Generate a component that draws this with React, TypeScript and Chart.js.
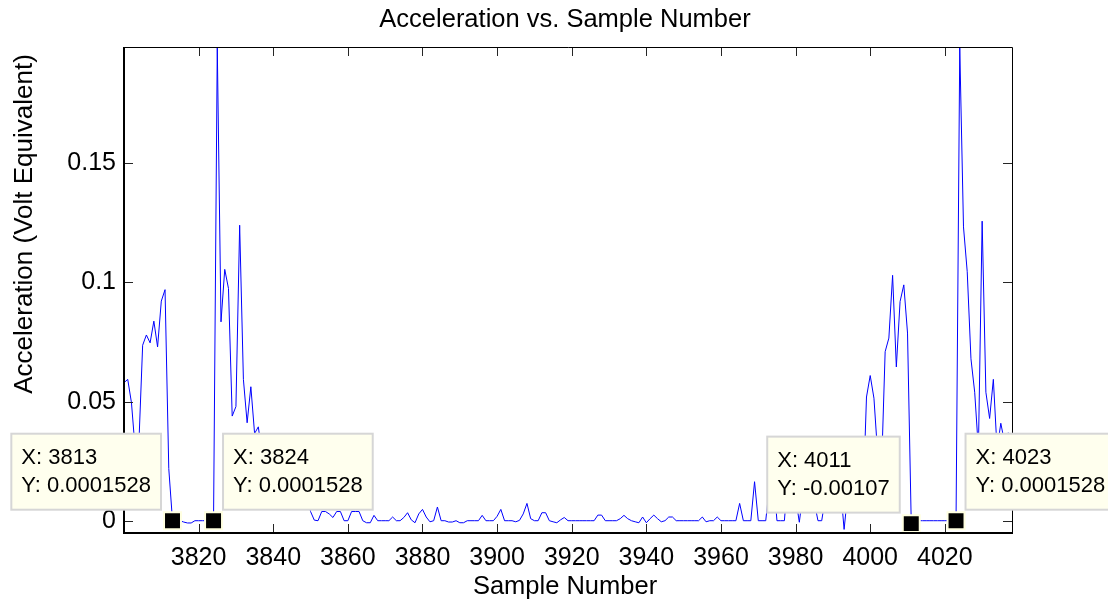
import React, { useEffect, useRef } from 'react';
import { Chart, registerables } from 'chart.js';

Chart.register(...registerables);

// ---- data (sample numbers start at 3800, one value per sample) ----
const sampleStart = 3800;
const acceleration: number[] = [
  // 3800-3809
  0.058, 0.0594, 0.0496, 0.03, 0.033, 0.0737, 0.078, 0.0747, 0.0838, 0.073,
  // 3810-3819
  0.0922, 0.097, 0.022, 0.0001528, 0.00015, 0.00015, -0.0004, -0.0008, -0.0008, 0.00015,
  // 3820-3829
  0.00015, 0.00015, 0.00015, 0.00015, 0.0001528, 0.1987, 0.0835, 0.1055, 0.0975, 0.044,
  // 3830-3839
  0.048, 0.124, 0.0594, 0.0412, 0.0563, 0.0367, 0.0395, 0.028, 0.022, 0.03,
  // 3840-3849
  0.018, 0.024, 0.015, 0.02, 0.012, 0.017, 0.01, 0.014, 0.008, 0.011,
  // 3850-3859
  0.004, 0.0004, 0.00015, 0.004, 0.004, 0.003, 0.0015, 0.004, 0.004, 0.00015,
  // 3860-3869
  0.00015, 0.004, 0.004, 0.004, 0.00015, -0.0007, -0.0007, 0.0024, 0.00015, 0.00015,
  // 3870-3879
  0.00015, 0.00015, 0.0017, 0.00015, 0.00015, 0.0015, 0.0035, 0.0005, -0.0007, 0.003,
  // 3880-3889
  0.0049, 0.0017, -0.0003, 0.00015, 0.0059, 0.00015, 0.00015, -0.0004, -0.0004, 0.00015,
  // 3890-3899
  -0.0007, -0.0007, 0.00015, 0.00015, 0.00015, 0.00015, 0.0024, 0.00015, 0.00015, 0.00015,
  // 3900-3909
  0.002, 0.0049, 0.00015, 0.00015, 0.00015, -0.0003, 0.0003, 0.003, 0.0074, 0.001,
  // 3910-3919
  0.00015, 0.00015, 0.0035, 0.0035, 0.00015, -0.0003, -0.0007, 0.0005, 0.0015, 0.00015,
  // 3920-3929
  0.00015, 0.00015, 0.00015, 0.00015, 0.00015, 0.00015, 0.00015, 0.0025, 0.0025, 0.00015,
  // 3930-3939
  0.00015, 0.00015, 0.00015, 0.001, 0.0024, 0.001, 0.00015, -0.0003, -0.0007, 0.0017,
  // 3940-3949
  -0.0007, 0.001, 0.0025, 0.001, -0.0003, 0.00015, 0.0017, 0.0017, 0.00015, 0.00015,
  // 3950-3959
  0.00015, 0.00015, 0.00015, 0.00015, 0.00015, 0.0017, -0.0003, 0.00015, 0.00015, 0.0017,
  // 3960-3969
  0.00015, 0.00015, 0.00015, 0.00015, 0.00015, 0.0074, 0.00015, 0.00015, 0.00015, 0.0165,
  // 3970-3979
  0.00015, 0.00015, 0.00015, 0.015, 0.02, 0.00015, 0.00015, 0.00015, 0.02, 0.015,
  // 3980-3989
  0.01, -0.0005, 0.012, 0.02, 0.015, 0.008, 0.00015, 0.00015, 0.01, 0.018,
  // 3990-3999
  0.012, 0.02, 0.015, -0.0035, 0.012, 0.02, 0.015, 0.02, 0.005, 0.052,
  // 4000-4009
  0.061, 0.0515, 0.028, 0.02, 0.071, 0.0767, 0.103, 0.0646, 0.092, 0.099,
  // 4010-4019
  0.0788, -0.00107, 0.00015, 0.00015, 0.00015, 0.00015, 0.00015, 0.00015, 0.00015, 0.00015,
  // 4020-4029
  0.00015, 0.00015, 0.00015, 0.0001528, 0.1987, 0.1233, 0.1045, 0.068, 0.054, 0.03,
  // 4030-4038
  0.1257, 0.054, 0.043, 0.0594, 0.03, 0.041, 0.033, 0.037, 0.034,
];

const xTickValues = [3820, 3840, 3860, 3880, 3900, 3920, 3940, 3960, 3980, 4000, 4020];
const yTickValues = [0, 0.05, 0.1, 0.15];
const yTickLabels = ['0', '0.05', '0.1', '0.15'];
const yMin = -0.005;
const yMax = 0.1987;

const tipSamples = [3813, 3824, 4011, 4023];
const tipValues = [0.0001528, 0.0001528, -0.00107, 0.0001528];
const tipSides = ['left', 'right', 'left', 'right'];

const titleText = 'Acceleration vs. Sample Number';
const xTitleText = 'Sample Number';
const yTitleText = 'Acceleration (Volt Equivalent)';

const FONT = '"Liberation Sans", Arial, Helvetica, sans-serif';

const matlabPlugin = {
  id: 'matlabLook',
  afterDatasetsDraw(chart: any) {
    const { ctx, chartArea: a, scales } = chart;
    const x = scales.x;
    const y = scales.y;
    ctx.save();
    // inward ticks on all four sides
    const tl = 9;
    ctx.strokeStyle = '#262626';
    ctx.lineWidth = 1;
    ctx.beginPath();
    x.ticks.forEach((t: any) => {
      const px = Math.round(x.getPixelForValue(t.value)) + 0.5;
      ctx.moveTo(px, a.bottom);
      ctx.lineTo(px, a.bottom - tl);
      ctx.moveTo(px, a.top);
      ctx.lineTo(px, a.top + tl);
    });
    y.ticks.forEach((t: any) => {
      const py = Math.round(y.getPixelForValue(t.value)) + 0.5;
      ctx.moveTo(a.left, py);
      ctx.lineTo(a.left + tl, py);
      ctx.moveTo(a.right, py);
      ctx.lineTo(a.right - tl, py);
    });
    ctx.stroke();
    // axes box
    ctx.strokeStyle = '#000';
    ctx.lineWidth = 1;
    ctx.beginPath();
    ctx.moveTo(a.left, a.top + 0.5);
    ctx.lineTo(a.right + 0.5, a.top + 0.5);
    ctx.lineTo(a.right + 0.5, a.bottom);
    ctx.stroke();
    ctx.lineWidth = 2;
    ctx.beginPath();
    ctx.moveTo(a.left, a.top);
    ctx.lineTo(a.left, a.bottom);
    ctx.lineTo(a.right + 1, a.bottom);
    ctx.stroke();
    ctx.restore();
  },
  afterDraw(chart: any) {
    const { ctx, chartArea: a, scales } = chart;
    const x = scales.x;
    const y = scales.y;
    ctx.save();
    ctx.fillStyle = '#000';
    // title
    ctx.font = `25.5px ${FONT}`;
    ctx.textAlign = 'center';
    ctx.textBaseline = 'alphabetic';
    const cx = (a.left + a.right) / 2 - 3;
    ctx.fillText(titleText, cx, 27);
    // x title
    ctx.fillText(xTitleText, cx, 594);
    // y title
    ctx.save();
    ctx.font = `26px ${FONT}`;
    ctx.translate(32, 224);
    ctx.rotate(-Math.PI / 2);
    ctx.fillText(yTitleText, 0, 0);
    ctx.restore();

    // data tips
    ctx.font = `22px ${FONT}`;
    tipSamples.forEach((s, i) => {
      const px = x.getPixelForValue(s);
      const py = y.getPixelForValue(tipValues[i]);
      const lines = [`X: ${s}`, `Y: ${tipValues[i]}`];
      const w = Math.max(...lines.map((l) => ctx.measureText(l).width)) + 20;
      const h = 76;
      const bx = tipSides[i] === 'left' ? px - 11.5 - w : px + 9.5;
      const by = py - 11 - h;
      ctx.fillStyle = 'rgb(255,255,238)';
      ctx.fillRect(bx, by, w, h);
      ctx.strokeStyle = 'rgb(214,214,214)';
      ctx.lineWidth = 2;
      ctx.strokeRect(bx, by, w, h);
      ctx.fillStyle = '#000';
      ctx.textAlign = 'left';
      ctx.textBaseline = 'middle';
      ctx.fillText(lines[0], bx + 10, by + 24);
      ctx.fillText(lines[1], bx + 10, by + 52);
    });
    ctx.restore();
  },
};

export default function App() {
  const canvasRef = useRef<HTMLCanvasElement | null>(null);

  useEffect(() => {
    const canvas = canvasRef.current;
    if (!canvas) return;
    const lineData = acceleration.map((v, i) => ({ x: sampleStart + i, y: v }));
    const tipData = tipSamples.map((s, i) => ({ x: s, y: tipValues[i] }));

    const chart = new Chart(canvas, {
      type: 'line',
      data: {
        datasets: [
          {
            label: 'tips',
            data: tipData,
            showLine: false,
            pointStyle: 'rect',
            pointRadius: 12,
            pointHoverRadius: 12,
            backgroundColor: '#000',
            borderColor: 'rgb(255,255,225)',
            borderWidth: 2,
            clip: false,
            order: 0,
          } as any,
          {
            label: 'acceleration',
            data: lineData,
            borderColor: 'rgb(0,0,255)',
            borderWidth: 1,
            pointRadius: 0,
            tension: 0,
            fill: false,
            order: 1,
          },
        ],
      },
      options: {
        animation: false,
        responsive: false,
        devicePixelRatio: 1,
        events: [],
        layout: { padding: { left: 0, right: 96, top: 47, bottom: 0 } },
        plugins: {
          legend: { display: false },
          title: { display: false },
          tooltip: { enabled: false },
        },
        scales: {
          x: {
            type: 'linear',
            min: sampleStart,
            max: sampleStart + acceleration.length - 1,
            grid: { display: false, drawTicks: false },
            border: { display: false },
            afterBuildTicks: (s: any) => {
              s.ticks = xTickValues.map((v) => ({ value: v }));
            },
            afterFit: (s: any) => {
              s.height = 71;
            },
            ticks: {
              autoSkip: false,
              maxRotation: 0,
              padding: 10,
              color: '#000',
              font: { family: FONT, size: 25 },
              callback: (v: any) => String(v),
            },
          },
          y: {
            type: 'linear',
            min: yMin,
            max: yMax,
            grid: { display: false, drawTicks: false },
            border: { display: false },
            afterBuildTicks: (s: any) => {
              s.ticks = yTickValues.map((v) => ({ value: v }));
            },
            afterFit: (s: any) => {
              s.width = 124;
            },
            ticks: {
              autoSkip: false,
              padding: 8,
              color: '#000',
              font: { family: FONT, size: 25 },
              callback: (_v: any, i: number) => yTickLabels[i],
            },
          },
        },
      },
      plugins: [matlabPlugin],
    });
    return () => chart.destroy();
  }, []);

  return (
    <div style={{ position: 'absolute', left: 0, top: 0, width: 1108, height: 604, background: '#fff' }}>
      <canvas ref={canvasRef} width={1108} height={604} style={{ display: 'block', width: 1108, height: 604 }} />
    </div>
  );
}
